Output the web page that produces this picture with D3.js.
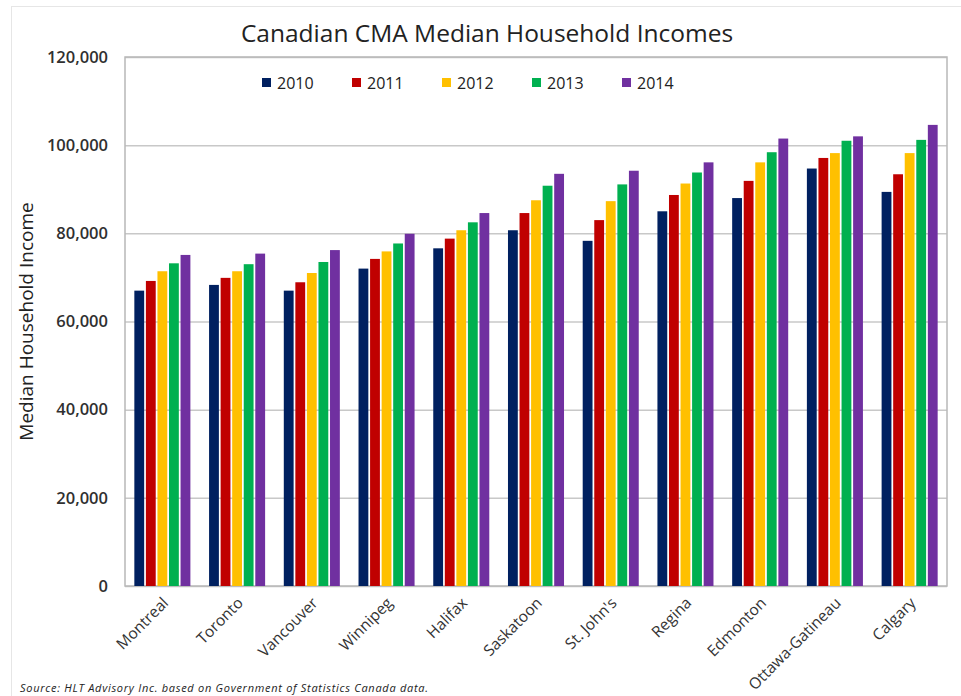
<!DOCTYPE html>
<html><head><meta charset="utf-8">
<script src="https://cdn.jsdelivr.net/npm/d3@7"></script>
<style>
body{margin:0;background:#fff;}
text{font-family:"Open Sans","DejaVu Sans",sans-serif;}
</style></head>
<body><svg id="c" width="961" height="696"></svg>
<script>
const categories=["Montreal","Toronto","Vancouver","Winnipeg","Halifax","Saskatoon","St. John's","Regina","Edmonton","Ottawa-Gatineau","Calgary"];
const years=["2010","2011","2012","2013","2014"];
const v2010=[67000,68300,67000,72000,76600,80700,78300,85000,88000,94700,89400];
const v2011=[69200,69900,68900,74200,78800,84600,83000,88700,91900,97100,93400];
const v2012=[71400,71400,71000,75900,80700,87500,87300,91300,96100,98200,98200];
const v2013=[73200,73000,73500,77700,82500,90800,91100,93800,98400,101000,101200];
const v2014=[75100,75400,76200,79900,84600,93500,94200,96100,101500,102000,104600];
const series=[v2010,v2011,v2012,v2013,v2014];
const colors=["#002060","#C00000","#FFC000","#00B050","#7030A0"];
const yTicks=[0,20000,40000,60000,80000,100000,120000];
const title="Canadian CMA Median Household Incomes";
const yTitle="Median Household Income";
const source="Source:  HLT Advisory Inc. based on Government of Statistics Canada data.";

const svg=d3.select("#c");
const L=125,R=947,T=57,B=586;
svg.append("rect").attr("x",11.5).attr("y",6.5).attr("width",960).attr("height",700).attr("fill","none").attr("stroke","#e6e6e6");
const x0=d3.scaleBand().domain(categories).range([L,R]).paddingInner(0.25).paddingOuter(0.125);
const x1=d3.scaleBand().domain(years).range([0,x0.bandwidth()]).paddingInner(0.15);
const y=d3.scaleLinear().domain([0,120000]).range([B,T]);

// gridlines
svg.append("g").selectAll("line").data(yTicks).join("line")
  .attr("x1",L).attr("x2",R).attr("y1",d=>y(d)+0.5).attr("y2",d=>y(d)+0.5)
  .attr("stroke","#c8c8c8").attr("stroke-width",1.5);
svg.append("rect").attr("x",L).attr("y",T).attr("width",R-L).attr("height",B-T)
  .attr("fill","none").attr("stroke","#b8b8b8").attr("stroke-width",1.5);

// y axis
const ya=svg.append("g").attr("transform",`translate(${L},0)`)
  .call(d3.axisLeft(y).tickValues(yTicks).tickSize(0).tickPadding(17).tickFormat(d3.format(",")));
ya.select(".domain").remove();
ya.selectAll("text").attr("font-size",16.5).attr("font-weight",600).attr("fill","#303030").attr("font-family","Open Sans, sans-serif");

// bars
const g=svg.append("g");
categories.forEach((c,i)=>{
  years.forEach((yr,j)=>{
    g.append("rect").attr("x",x0(c)+x1(yr)).attr("y",y(series[j][i]))
      .attr("width",x1.bandwidth()).attr("height",B-y(series[j][i]))
      .attr("fill",colors[j]);
  });
});

// x labels
svg.append("g").selectAll("text").data(categories).join("text")
  .attr("transform",d=>`translate(${x0(d)+x0.bandwidth()/2+7},${B+18}) rotate(-45)`)
  .attr("text-anchor","end").attr("font-size",15.5).attr("fill","#333").text(d=>d);

// title
svg.append("text").attr("x",487).attr("y",42).attr("text-anchor","middle")
  .attr("font-size",24.5).attr("fill","#222").text(title);
// y title
svg.append("text").attr("transform",`translate(33,${(T+B)/2}) rotate(-90)`).attr("text-anchor","middle")
  .attr("font-size",19).attr("fill","#222").text(yTitle);

// legend
const lg=svg.append("g");
years.forEach((yr,j)=>{
  lg.append("rect").attr("x",262+j*90).attr("y",78).attr("width",9).attr("height",9).attr("fill",colors[j]);
  lg.append("text").attr("x",277+j*90).attr("y",89).attr("font-size",16).attr("fill","#222").text(yr);
});

// source
svg.append("text").attr("x",20).attr("y",692).attr("font-size",11).attr("font-style","italic")
  .attr("textLength",408).attr("lengthAdjust","spacing")
  .attr("fill","#222").text(source);
</script></body></html>
